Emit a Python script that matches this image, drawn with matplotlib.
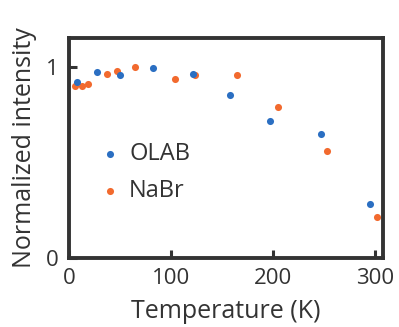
import matplotlib
matplotlib.use("Agg")
import matplotlib.pyplot as plt

plt.rcParams['font.family'] = ['Open Sans', 'DejaVu Sans']

olab_T = [7, 27, 50, 82, 121, 158, 197, 247, 295]
olab_I = [0.922, 0.974, 0.957, 0.995, 0.962, 0.852, 0.716, 0.648, 0.282]
nabr_T = [5, 12, 18, 36.5, 46.5, 64.5, 103.5, 123.5, 165, 205, 253, 302]
nabr_I = [0.899, 0.899, 0.908, 0.96, 0.977, 1.0, 0.937, 0.958, 0.958, 0.791, 0.559, 0.214]

xticks = [0, 100, 200, 300]
yticks = [0, 1]

blue = '#2b6fc2'
orange = '#f26a2e'
dark = '#333333'

fig = plt.figure(figsize=(3.99, 3.27), dpi=100)
ax = fig.add_axes([0.174, 0.211, 0.785, 0.674])
ax.scatter(olab_T, olab_I, s=26, color=blue, label='OLAB', zorder=3, linewidths=0)
ax.scatter(nabr_T, nabr_I, s=26, color=orange, label='NaBr', zorder=2, linewidths=0)

ax.set_xlim(3, 307.5)
ax.set_ylim(0, 1.152)
ax.set_xticks(xticks)
ax.set_yticks(yticks)
ax.tick_params(direction='in', length=6, width=2.2, color=dark, labelcolor=dark,
               labelsize=16)
ax.tick_params(axis='x', pad=7.5)
ax.tick_params(axis='y', pad=8)
for s in ax.spines.values():
    s.set_linewidth(2.8)
    s.set_color(dark)
ax.set_xlabel('Temperature (K)', fontsize=18, color=dark, labelpad=7)
ax.set_ylabel('Normalized intensity', fontsize=18, color=dark, labelpad=6)

leg = ax.legend(loc='upper left', bbox_to_anchor=(0.055, 0.567), frameon=False,
                fontsize=17, handletextpad=0.2, labelspacing=0.55,
                markerscale=1.0, handlelength=1.2, borderaxespad=0)
for t in leg.get_texts():
    t.set_color(dark)

fig.savefig('out.png', dpi=100)
